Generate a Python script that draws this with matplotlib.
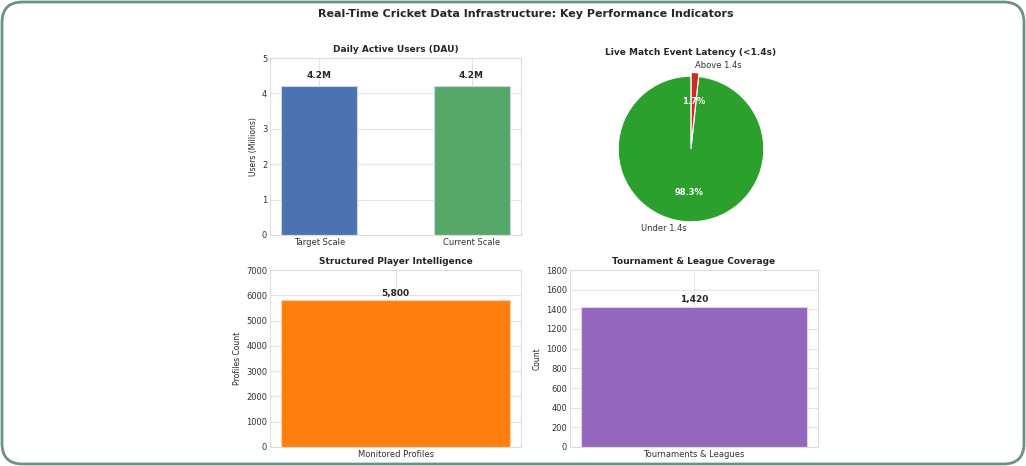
import matplotlib
matplotlib.use("Agg")
import matplotlib.pyplot as plt
from matplotlib.patches import FancyBboxPatch

plt.style.use("seaborn-v0_8-whitegrid")
plt.rcParams["font.family"] = ["DejaVu Sans"]

# data
dau_labels = ["Target Scale", "Current Scale"]
dau_values = [4.2, 4.2]
dau_colors = ["#4c72b0", "#55a868"]

latency_labels = ["Under 1.4s", "Above 1.4s"]
latency_share = [98.3, 1.7]
latency_colors = ["#2ca02c", "#d62728"]

player_labels = ["Monitored Profiles"]
player_values = [5800]

league_labels = ["Tournaments & Leagues"]
league_values = [1420]

W, H = 1026, 466
fig = plt.figure(figsize=(W / 100, H / 100), dpi=100)

# rounded frame around the whole picture
frame = FancyBboxPatch((2 / W, 2 / H), 1 - 4 / W, 1 - 4 / H,
                       boxstyle="round,pad=0,rounding_size=0.02",
                       transform=fig.transFigure, facecolor="white",
                       edgecolor="#6a9287", linewidth=2, zorder=-10,
                       mutation_aspect=W / H)
fig.patches.append(frame)


def ax_at(x0, y0, x1, y1):
    return fig.add_axes([x0 / W, 1 - y1 / H, (x1 - x0) / W, (y1 - y0) / H])


def style(ax):
    ax.tick_params(labelsize=6, colors="#333333", pad=2)
    for s in ax.spines.values():
        s.set_color("#dddddd")
        s.set_linewidth(0.8)
    ax.grid(color="#e3e3e3", linewidth=0.8)
    ax.set_axisbelow(True)


title_kw = dict(fontsize=6.5, fontweight="bold", pad=4)

fig.text(526 / W, 1 - 14 / H, "Real-Time Cricket Data Infrastructure: Key Performance Indicators",
         ha="center", va="center", fontsize=8, fontweight="bold")

# daily active users
ax1 = ax_at(270, 58, 521, 235)
style(ax1)
b = ax1.bar(dau_labels, dau_values, width=0.5, color=dau_colors, edgecolor="#c9d6ea", linewidth=0.8)
ax1.set_ylim(0, 5)
ax1.set_title("Daily Active Users (DAU)", **title_kw)
ax1.set_ylabel("Users (Millions)", fontsize=5.5, labelpad=3)
for rect, v in zip(b, dau_values):
    ax1.text(rect.get_x() + rect.get_width() / 2, v + 0.17, f"{v}M",
             ha="center", va="bottom", fontsize=6.5, fontweight="bold")

# latency pie
ax2 = ax_at(580, 58, 802, 240)
ax2.pie(latency_share, labels=latency_labels, colors=latency_colors,
        autopct="%1.1f%%", startangle=90, explode=[0, 0.05],
        wedgeprops=dict(edgecolor="white", linewidth=0.8),
        textprops=dict(fontsize=6, color="#333333"), pctdistance=0.6,
        labeldistance=1.1)
for t in ax2.texts:
    if t.get_text().endswith("%"):
        t.set_color("white")
        t.set_fontweight("bold")
ax2.set_aspect("equal")
ax2.set_title("Live Match Event Latency (<1.4s)", fontsize=6.5, fontweight="bold", pad=2)

# player intelligence
ax3 = ax_at(270, 270, 521, 447)
style(ax3)
b = ax3.bar(player_labels, player_values, width=0.8, color="#ff7f0e", edgecolor="#ffd0a0", linewidth=0.8)
ax3.set_ylim(0, 7000)
ax3.set_title("Structured Player Intelligence", **title_kw)
ax3.set_ylabel("Profiles Count", fontsize=5.5, labelpad=3)
for rect, v in zip(b, player_values):
    ax3.text(rect.get_x() + rect.get_width() / 2, v + 100, f"{v:,}",
             ha="center", va="bottom", fontsize=6.5, fontweight="bold")

# league coverage
ax4 = ax_at(570, 270, 818, 447)
style(ax4)
b = ax4.bar(league_labels, league_values, width=0.8, color="#9467bd", edgecolor="#e0d0f0", linewidth=0.8)
ax4.set_ylim(0, 1800)
ax4.set_title("Tournament & League Coverage", **title_kw)
ax4.set_ylabel("Count", fontsize=5.5, labelpad=3)
for rect, v in zip(b, league_values):
    ax4.text(rect.get_x() + rect.get_width() / 2, v + 30, f"{v:,}",
             ha="center", va="bottom", fontsize=6.5, fontweight="bold")

fig.savefig("out.png", dpi=100)
